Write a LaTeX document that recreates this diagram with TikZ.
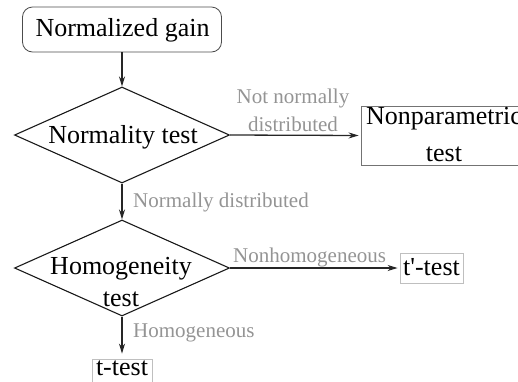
\documentclass[tikz,border=0pt]{standalone}
\usepackage{fontspec}
\setmainfont{Liberation Serif}
\usetikzlibrary{shapes.geometric,arrows.meta}
\begin{document}
\begin{tikzpicture}[x=1pt,y=-1pt,
  mainfont/.style={font=\fontsize{26}{32}\selectfont},
  lblfont/.style={font=\fontsize{21}{27}\selectfont, text=black!42},
  dia/.style={diamond, draw=black!90, line width=1.1pt, inner sep=0pt},
  conn/.style={draw=black!85, line width=1.3pt, -{Stealth[length=10pt,width=6pt]}},
  txt/.style={mainfont, inner sep=0pt, anchor=base},
  lbl/.style={lblfont, inner sep=0pt, anchor=base west}]
\useasboundingbox (0,0) rectangle (518,381);
\clip (0,0) rectangle (518,381);
% boxes
\node[draw=black!70, line width=0.8pt, rounded corners=10pt, minimum width=199pt, minimum height=45pt, inner sep=0pt] (gain) at (122,29.5) {};
\node[txt] (gaint) at (122.5,36) {Normalized gain};
\node[dia, minimum width=215pt, minimum height=96pt] (d1) at (122,135) {};
\node[txt] (d1t) at (123,143) {Normality test};
\node[dia, minimum width=215pt, minimum height=96pt] (d2) at (122,268) {};
\node[txt] (d2a) at (121,274) {Homogeneity};
\node[txt] (d2b) at (121,306) {test};
\node[draw=black!55, line width=0.8pt, minimum width=166pt, minimum height=59pt, inner sep=0pt] (np) at (444,135.5) {};
\node[txt] (npa) at (444,124) {Nonparametric};
\node[txt] (npb) at (444,161) {test};
\node[draw=black!25, line width=0.8pt, minimum width=63pt, minimum height=30pt, inner sep=0pt] (tp) at (431.5,268) {};
\node[txt] (tpt) at (431.5,275) {t\textquotesingle-test};
\node[draw=black!25, line width=0.8pt, minimum width=60pt, minimum height=30pt, inner sep=0pt] (tt) at (122,374) {};
\node[txt] (ttt) at (122,375) {t-test};
% connectors
\draw[conn] (gain.south) -- (d1.north);
\draw[conn, shorten >=2pt] (d1.east) -- (np.west);
\draw[conn] (d1.south) -- (d2.north);
\draw[conn, shorten >=2pt] (d2.east) -- (tp.west);
\draw[conn, shorten >=5pt] (d2.south) -- (tt.north);
% labels
\node[lblfont, inner sep=0pt, anchor=base] (l1) at (293,103) {Not normally};
\node[lblfont, inner sep=0pt, anchor=base] (l2) at (293,131) {distributed};
\node[lbl] (l3) at (133,207) {Normally distributed};
\node[lbl] (l4) at (233,262) {Nonhomogeneous};
\node[lbl] (l5) at (133,337) {Homogeneous};
\end{tikzpicture}
\end{document}
